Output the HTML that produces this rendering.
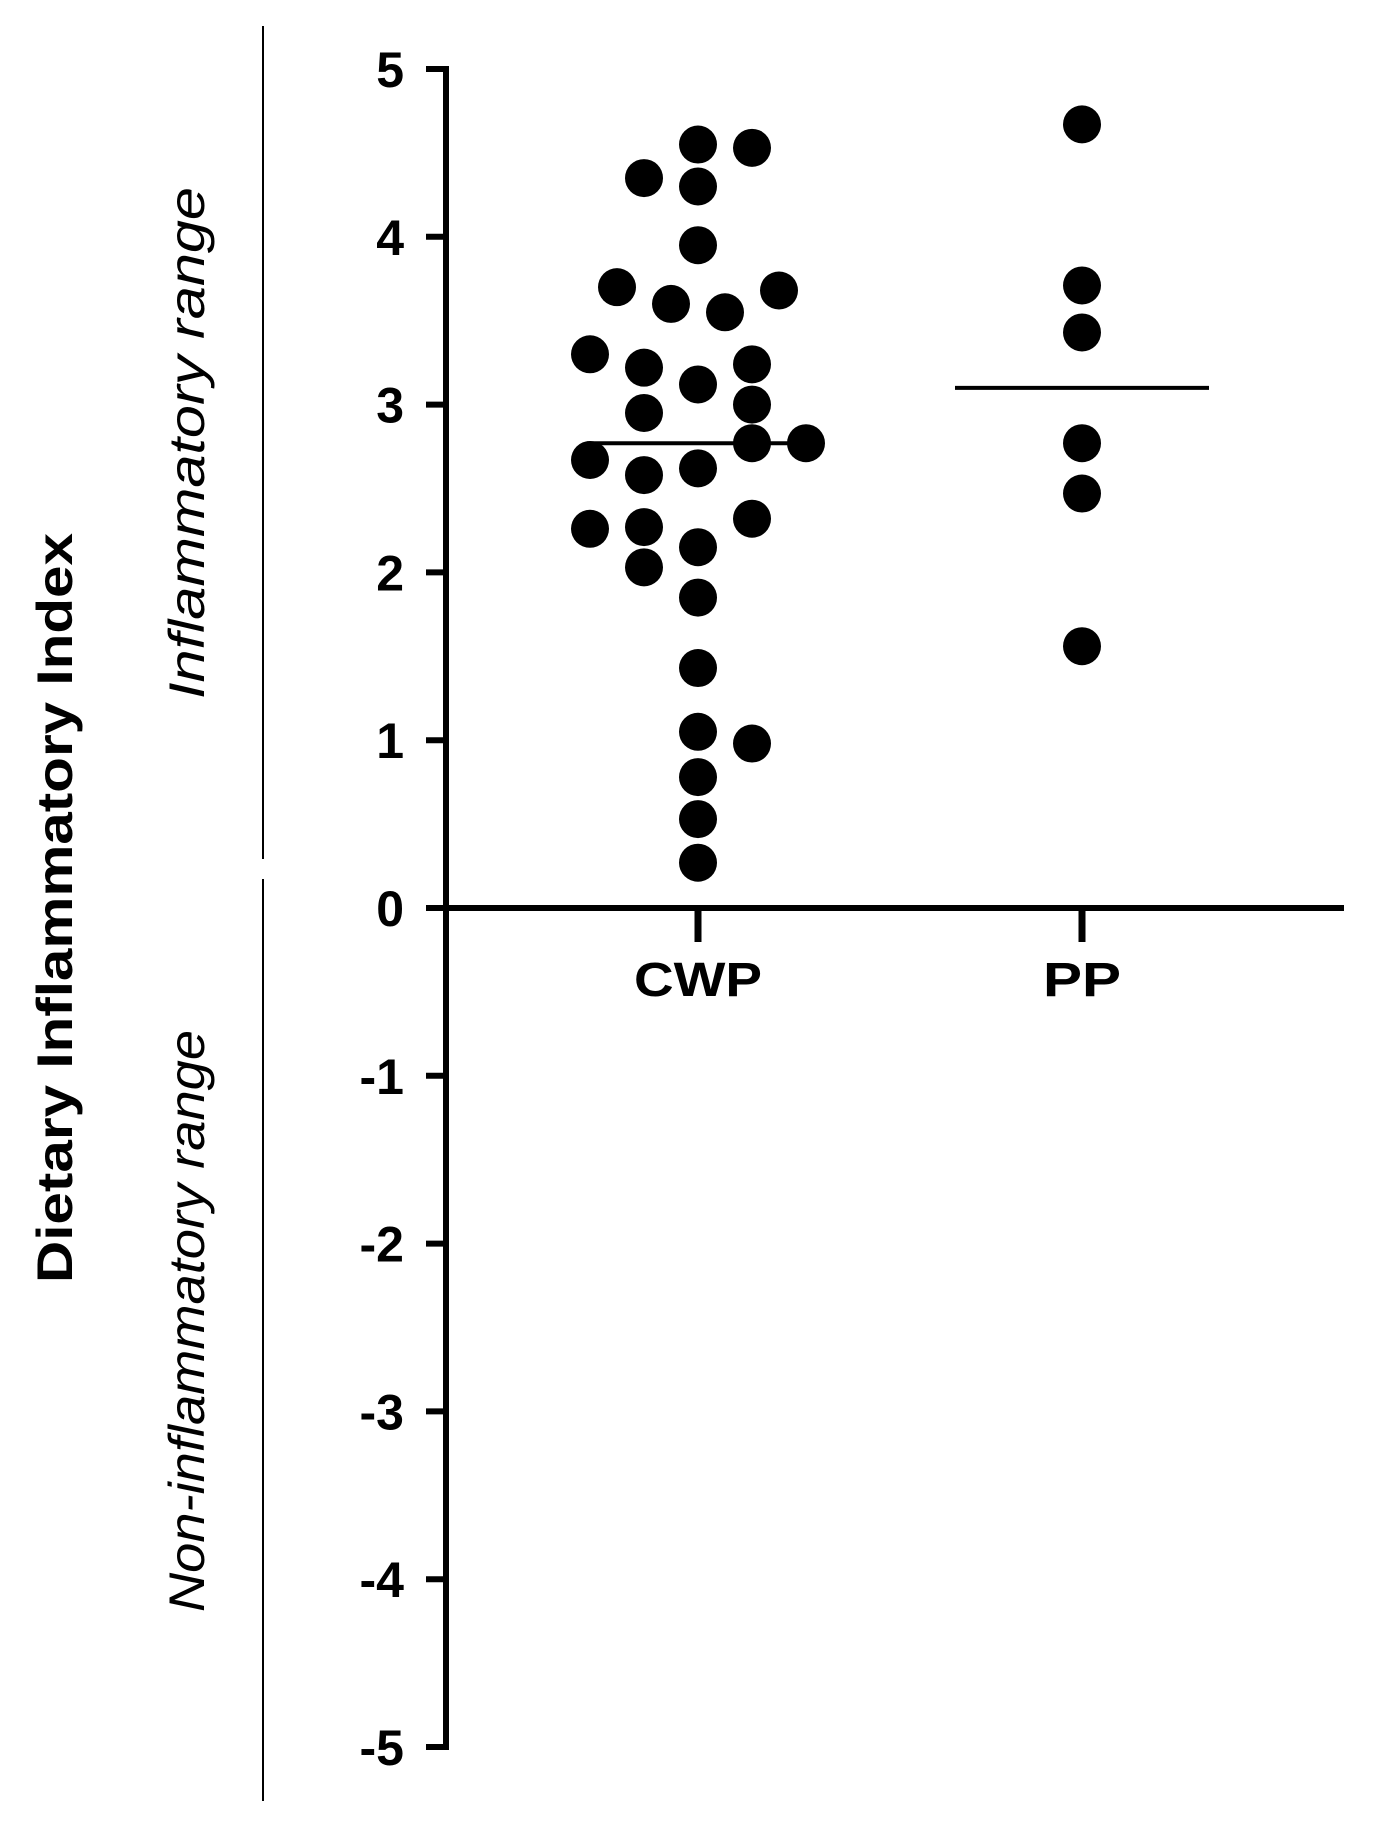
<!DOCTYPE html>
<html><head><meta charset="utf-8"><style>body{margin:0;background:#fff}svg{display:block}</style></head>
<body>
<svg width="1379" height="1833" xmlns="http://www.w3.org/2000/svg">
<g id="root"></g>
</svg>
<script>
const groups = ["CWP", "PP"];
const cwpValues = [4.55,4.53,4.35,4.30,3.95,3.70,3.68,3.60,3.55,3.30,3.22,3.24,3.12,2.95,3.00,2.67,2.58,2.62,2.77,2.77,2.26,2.27,2.32,2.15,2.03,1.85,1.43,1.05,0.98,0.78,0.53,0.27];
const cwpJitter = [0,1,-1,0,0,-1.5,1.5,-0.5,0.5,-2,-1,1,0,-1,1,-2,-1,0,1,2,-2,-1,1,0,-1,0,0,0,1,0,0,0];
const ppValues = [4.67,3.71,3.43,2.77,2.47,1.56];
const means = [2.77, 3.10];
const yTicks = [5,4,3,2,1,0,-1,-2,-3,-4,-5];

const NS = "http://www.w3.org/2000/svg";
const root = document.getElementById("root");
const axX = 446, x0 = 446, x1 = 1344;
const y = v => 908 - v * 167.8;
const xc = i => [698, 1082][i];
const jit = 54;
function el(tag, attrs, parent) {
  const e = document.createElementNS(NS, tag);
  for (const k in attrs) e.setAttribute(k, attrs[k]);
  (parent || root).appendChild(e);
  return e;
}
let d1 = el("line", {x1:263,y1:26,x2:263,y2:859,stroke:"#000","stroke-width":2});


let d2 = el("line", {x1:263,y1:879,x2:263,y2:1801,stroke:"#000","stroke-width":2});


let t = el("text", {x:0,y:0,transform:"translate(72,908) rotate(-90)","text-anchor":"middle","font-family":"Liberation Sans, sans-serif","font-size":50,"font-weight":"bold",textLength:750,lengthAdjust:"spacingAndGlyphs"});
t.textContent = "Dietary Inflammatory Index";


let t1 = el("text", {x:0,y:0,transform:"translate(204,443) rotate(-90)","text-anchor":"middle","font-family":"Liberation Sans, sans-serif","font-size":50,"font-style":"italic",textLength:512,lengthAdjust:"spacingAndGlyphs"});
t1.textContent = "Inflammatory range";


let t2 = el("text", {x:0,y:0,transform:"translate(204,1321) rotate(-90)","text-anchor":"middle","font-family":"Liberation Sans, sans-serif","font-size":50,"font-style":"italic",textLength:582,lengthAdjust:"spacingAndGlyphs"});
t2.textContent = "Non-inflammatory range";


let ya = el("line", {x1:axX,y1:y(5)-3,x2:axX,y2:y(-5)+3,stroke:"#000","stroke-width":6});


yTicks.forEach(v => {
  const tk = el("line", {x1:axX-20,y1:y(v),x2:axX,y2:y(v),stroke:"#000","stroke-width":6});
  
  
  const lb = el("text", {x:404,y:y(v)+18,"text-anchor":"end","font-family":"Liberation Sans, sans-serif","font-size":50,"font-weight":"bold"});
  lb.textContent = String(v);
  
  
});
let xa = el("line", {x1:x0,y1:y(0),x2:x1,y2:y(0),stroke:"#000","stroke-width":6});


groups.forEach((g, i) => {
  const tk = el("line", {x1:xc(i),y1:y(0),x2:xc(i),y2:y(0)+34,stroke:"#000","stroke-width":7});
  
  
  const lb = el("text", {x:xc(i),y:y(0)+88,"text-anchor":"middle","font-family":"Liberation Sans, sans-serif","font-size":48,"font-weight":"bold",textLength:i===0?128:78,lengthAdjust:"spacingAndGlyphs"});
  lb.textContent = g;
  
  
});
cwpValues.forEach((v, k) => {
  const c = el("circle", {cx:xc(0)+cwpJitter[k]*jit, cy:y(v), r:19, fill:"#000"});
  
  
});
ppValues.forEach(v => {
  const c = el("circle", {cx:xc(1), cy:y(v), r:19, fill:"#000"});
  
  
});
means.forEach((m, i) => {
  const half = i === 0 ? 111 : 127;
  const l = el("line", {x1:xc(i)-half,y1:y(m),x2:xc(i)+half,y2:y(m),stroke:"#000","stroke-width":4});
  
  
});
</script>
</body></html>
